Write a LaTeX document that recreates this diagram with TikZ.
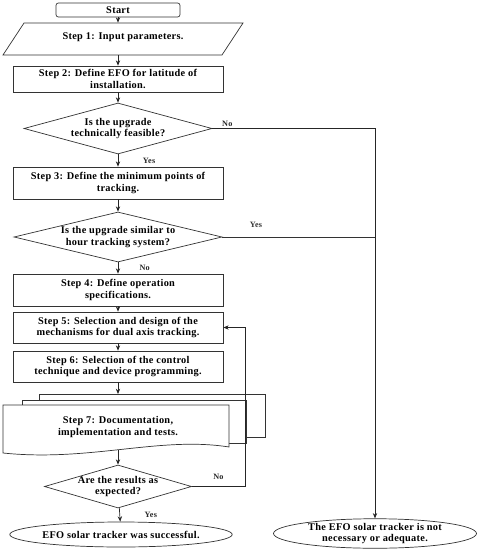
\documentclass[tikz,border=0pt]{standalone}
\usepackage{fontspec}
\setmainfont{Liberation Serif}[LetterSpace=3]
\usetikzlibrary{positioning,arrows.meta,shapes.geometric,calc}

\begin{document}
\begin{tikzpicture}[
    x=0.3mm, y=-0.3mm,
    font=\fontsize{8.8}{9.8}\selectfont\bfseries,
    line width=0.6pt,
    term/.style={draw=black!80, rounded corners=2pt, minimum width=37.2mm, minimum height=4.2mm, inner sep=1pt},
    io/.style={draw=black!80, trapezium, trapezium left angle=34, trapezium right angle=146, trapezium stretches body=true, minimum width=72mm, minimum height=9.6mm, inner sep=1pt},
    proc/.style={draw=black!80, minimum width=63mm, align=center, inner sep=2pt},
    dec/.style={draw=black!80, diamond, align=center, inner sep=-2pt},
    stop/.style={draw=black!80, ellipse, align=center, inner sep=0pt},
    lbl/.style={font=\fontsize{7}{8}\selectfont\bfseries, inner sep=1pt},
    arr/.style={-{Stealth[length=1.6mm, width=1.3mm]}, black!85},
    ln/.style={black!80},
  ]
  \useasboundingbox (0,0) rectangle (478,550);
  % main column
  \node[term] (start) at (118,10) {Start};
  \node[io] (inp) at (123,39) {\raisebox{1.5mm}{Step 1: Input parameters.}};
  \node[proc, minimum height=7.8mm] (s2) at (118,79) {Step 2: Define EFO for latitude of\\installation.};
  \node[dec, minimum width=56.4mm, minimum height=15.3mm, aspect=3.7] (d1) at (118,128.5) {Is the upgrade\\technically feasible?};
  \node[proc, minimum height=9.6mm] (s3) at (118,183) {Step 3: Define the minimum points of\\tracking.};
  \node[dec, minimum width=62.4mm, minimum height=15mm, aspect=4.2] (d2) at (118,237) {Is the upgrade similar to\\hour tracking system?};
  \node[proc, minimum height=9.6mm] (s4) at (118,290) {Step 4: Define operation\\specifications.};
  \node[proc, minimum height=9.3mm] (s5) at (118,327.5) {Step 5: Selection and design of the\\mechanisms for dual axis tracking.};
  \node[proc, minimum height=9.3mm] (s6) at (118,366.5) {Step 6: Selection of the control\\technique and device programming.};
  % step 7, stacked documents
  \draw[ln] (39,400) |- (265,394) |- (246,437);
  \draw[ln] (22,405) |- (246,400) |- (229,443);
  \draw[ln, fill=white] (3,405) -- (229,405) -- (229,447) .. controls (160,436) and (90,462) .. (3,453) -- cycle;
  \node[align=center] (s7) at (118,427) {Step 7: Documentation,\\implementation and tests.};
  \coordinate (s7in) at (118,394);
  \coordinate (s7out) at (118,450);
  \node[dec, minimum width=44.1mm, minimum height=12.9mm, aspect=3.4] (d3) at (118,486.5) {Are the results as\\expected?};
  \node[stop, minimum width=65.1mm, minimum height=7.5mm] (ok) at (121,534.5) {EFO solar tracker was successful.};
  \node[stop, minimum width=60.9mm, minimum height=8.1mm] (nok) at (375,533.5) {The EFO solar tracker is not\\necessary or adequate.};
  \coordinate (loop) at (245,328);
  % connectors
  \draw[arr] (start) -- (start |- inp.north);
  \draw[arr] (inp.south -| s2) -- (s2);
  \draw[arr] (s2) -- (d1);
  \draw[arr] (d1) -- node[lbl, right=7mm] (yes1) {Yes} (s3);
  \draw[arr] (s3) -- (d2);
  \draw[arr] (d2) -- node[lbl, right=6mm] (no1) {No} (s4);
  \draw[arr] (s4) -- (s5);
  \draw[arr] (s5) -- (s6);
  \draw[arr] (s6) -- (s7in);
  \draw[arr] (s7out) -- (d3);
  \draw[arr] (d3) -- node[lbl, right=7mm] (yes3) {Yes} (ok);
  \draw[arr] (d1.east) -- node[lbl, pos=0, above right, xshift=2.5mm] (no2) {No} (d1.east -| nok.north) -- (nok.north);
  \draw[ln] (d2.east) -- node[lbl, pos=0.22, above=2.4mm] (yes2) {Yes} (d2.east -| nok.north);
  \draw[arr] (d3.east) -- node[lbl, above=1.5mm] (no3) {No} (d3.east -| loop) |- (s5.east);
\end{tikzpicture}
\end{document}
